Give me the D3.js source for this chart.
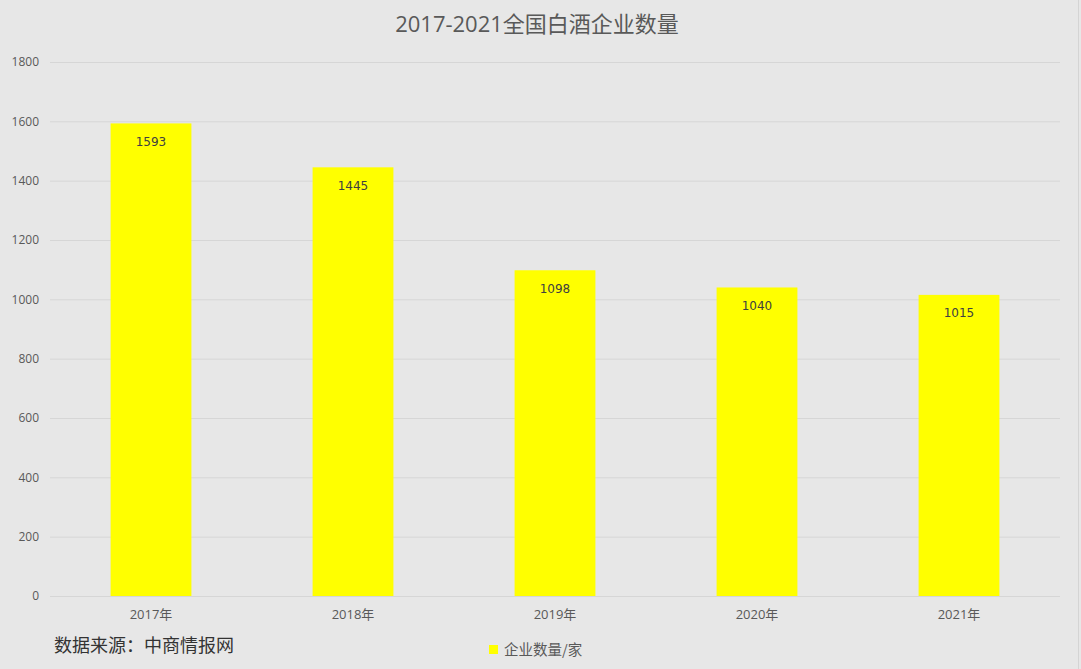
<!DOCTYPE html>
<html>
<head>
<meta charset="utf-8">
<script src="https://cdn.jsdelivr.net/npm/d3@7"></script>
<style>
  body { margin: 0; background: #e7e7e7; }
  svg { display: block; }
</style>
</head>
<body>
<div id="chart"></div>
<script>
const W = 1081
const H = 669
const MARGIN = {TOP: 62, RIGHT: 21, BOTTOM: 73, LEFT: 50}

// data
const years = ["2017年", "2018年", "2019年", "2020年", "2021年"]
const counts = [1593, 1445, 1098, 1040, 1015]
const yTicks = [0, 200, 400, 600, 800, 1000, 1200, 1400, 1600, 1800]

const svg = d3.select("#chart").append("svg")
  .attr("width", W)
  .attr("height", H)

svg.append("rect")
  .attr("width", W)
  .attr("height", H)
  .attr("fill", "#e7e7e7")

const x = d3.scaleBand()
  .domain(years)
  .range([MARGIN.LEFT, W - MARGIN.RIGHT])
  .paddingInner(0.6)
  .paddingOuter(0.3)

const y = d3.scaleLinear()
  .domain([0, 1800])
  .range([H - MARGIN.BOTTOM, MARGIN.TOP])

// gridlines
svg.append("g")
  .selectAll("line")
  .data(yTicks)
  .enter().append("line")
    .attr("x1", MARGIN.LEFT)
    .attr("x2", W - MARGIN.RIGHT)
    .attr("y1", d => y(d) + 0.5)
    .attr("y2", d => y(d) + 0.5)
    .attr("stroke", "#d6d6d6")
    .attr("stroke-width", 1)

// y axis labels
const yAxis = d3.axisLeft(y)
  .tickValues(yTicks)
  .tickFormat(d3.format("d"))
  .tickSize(0)
  .tickPadding(0)
svg.append("g")
  .attr("class", "y axis")
  .attr("transform", "translate(39, 0)")
  .call(yAxis)
  .call(g => g.select(".domain").remove())
  .selectAll("text")
    .attr("font-family", "'Open Sans', 'Noto Sans', sans-serif")
    .attr("font-size", "12px")
    .attr("fill", "#595959")

// x axis labels
const xAxis = d3.axisBottom(x).tickSize(0).tickPadding(0)
svg.append("g")
  .attr("class", "x axis")
  .attr("transform", `translate(0, ${H - MARGIN.BOTTOM + 14})`)
  .call(xAxis)
  .call(g => g.select(".domain").remove())
  .selectAll("text")
    .attr("font-family", "'Open Sans', 'Noto Sans CJK SC', sans-serif")
    .attr("font-size", "13px")
    .attr("fill", "#595959")

// bars
const data = years.map((d, i) => ({year: d, value: counts[i]}))
svg.selectAll("rect.bar")
  .data(data)
  .enter().append("rect")
    .attr("class", "bar")
    .attr("x", d => x(d.year))
    .attr("y", d => y(d.value))
    .attr("width", x.bandwidth())
    .attr("height", d => y(0) - y(d.value))
    .attr("fill", "#ffff00")

// value labels
svg.selectAll("text.value")
  .data(data)
  .enter().append("text")
    .attr("class", "value")
    .attr("x", d => x(d.year) + x.bandwidth() / 2)
    .attr("y", d => y(d.value) + 22.5)
    .attr("text-anchor", "middle")
    .attr("font-family", "'DejaVu Sans', sans-serif")
    .attr("font-size", "12px")
    .attr("fill", "#404040")
    .text(d => d.value)

// title
svg.append("text")
  .attr("x", 537)
  .attr("y", 32)
  .attr("text-anchor", "middle")
  .attr("font-family", "'Open Sans', 'Noto Sans CJK SC', sans-serif")
  .attr("font-size", "22px")
  .attr("fill", "#595959")
  .text("2017-2021全国白酒企业数量")

// source
svg.append("text")
  .attr("x", 54)
  .attr("y", 652)
  .attr("font-family", "'Noto Sans CJK SC', sans-serif")
  .attr("font-size", "18px")
  .attr("fill", "#333333")
  .text("数据来源：中商情报网")

// legend
svg.append("rect")
  .attr("x", 489)
  .attr("y", 645)
  .attr("width", 9)
  .attr("height", 9)
  .attr("fill", "#ffff00")
svg.append("text")
  .attr("x", 504)
  .attr("y", 655)
  .attr("font-family", "'Noto Sans CJK SC', sans-serif")
  .attr("font-size", "14.5px")
  .attr("fill", "#595959")
  .text("企业数量/家")

// faint ruler at the right edge
svg.append("line")
  .attr("x1", 1078.5).attr("x2", 1078.5)
  .attr("y1", 0).attr("y2", H)
  .attr("stroke", "#d4d4d4")
</script>
</body>
</html>
